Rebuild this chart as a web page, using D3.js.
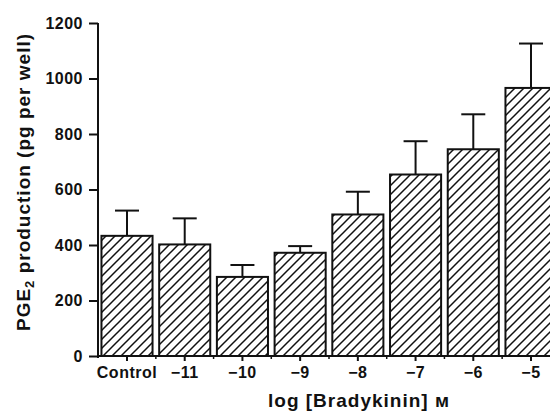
<!DOCTYPE html>
<html>
<head>
<meta charset="utf-8">
<script src="https://cdn.jsdelivr.net/npm/d3@7"></script>
<style>
  html, body { margin: 0; padding: 0; background: #fff; }
  svg { display: block; }
  text { font-family: "Liberation Sans", Arial, sans-serif; font-weight: bold; fill: #111; }
</style>
</head>
<body>
<svg id="chart"></svg>
<script>
// PGE2 production vs log [Bradykinin]
const categories = ['Control', '\u221211', '\u221210', '\u22129', '\u22128', '\u22127', '\u22126', '\u22125'];
const means = [433, 402, 285, 372, 510, 654, 745, 966];
const sems = [91, 94, 43, 24, 82, 120, 126, 160];
const yTicks = [0, 200, 400, 600, 800, 1000, 1200];

(function() {
    const width = 550, height = 414;
    const svg = d3.select('#chart').attr('width', width).attr('height', height);

    // Hatch pattern
    const defs = svg.append('defs');
    const pat = defs.append('pattern').attr('id', 'hatch')
        .attr('patternUnits', 'userSpaceOnUse')
        .attr('width', 9).attr('height', 9);
    pat.append('rect').attr('width', 9).attr('height', 9).attr('fill', '#fff');
    pat.append('path')
        .attr('d', 'M-2,11 L11,-2 M-2,2 L2,-2 M7,11 L11,7')
        .attr('stroke', '#111').attr('stroke-width', 1.5);

    const x = d3.scaleBand().domain(categories).range([98, 560])
        .paddingInner(0.115).paddingOuter(0.06);
    const y = d3.scaleLinear().domain([0, 1200]).range([356, 23]);

    const data = categories.map((c, i) => ({ cat: c, mean: means[i], sem: sems[i] }));

    // Error bars (drawn first so the bar outline sits on top)
    const err = svg.append('g');
    err.selectAll('.stem').data(data).enter().append('line')
        .attr('x1', d => x(d.cat) + x.bandwidth() / 2).attr('x2', d => x(d.cat) + x.bandwidth() / 2)
        .attr('y1', d => y(d.mean)).attr('y2', d => y(d.mean + d.sem))
        .attr('stroke', '#111').attr('stroke-width', 2);
    err.selectAll('.cap').data(data).enter().append('line')
        .attr('x1', d => x(d.cat) + x.bandwidth() / 2 - 12).attr('x2', d => x(d.cat) + x.bandwidth() / 2 + 12)
        .attr('y1', d => y(d.mean + d.sem)).attr('y2', d => y(d.mean + d.sem))
        .attr('stroke', '#111').attr('stroke-width', 2);

    // Bars
    svg.append('g').selectAll('rect').data(data).enter().append('rect')
        .attr('x', d => x(d.cat))
        .attr('y', d => y(d.mean))
        .attr('width', x.bandwidth())
        .attr('height', d => y(0) - y(d.mean))
        .attr('fill', 'url(#hatch)')
        .attr('stroke', '#111').attr('stroke-width', 2);

    // Y axis
    const yAxis = svg.append('g').attr('transform', 'translate(98,0)')
        .call(d3.axisLeft(y).tickValues(yTicks).tickFormat(d3.format('d')).tickSize(9).tickPadding(6));
    yAxis.select('.domain').attr('stroke', '#111').attr('stroke-width', 2)
        .attr('d', 'M0,' + y(1200) + 'V' + (y(0) + 2));
    yAxis.selectAll('.tick line').attr('stroke', '#111').attr('stroke-width', 2);
    yAxis.selectAll('.tick text').attr('font-size', 16).attr('font-family', null)
        .style('letter-spacing', '0.5px').attr('fill', '#111');

    // X axis
    const xAxis = svg.append('g').attr('transform', 'translate(0,' + y(0) + ')')
        .call(d3.axisBottom(x).tickSize(5).tickPadding(6).tickSizeOuter(0));
    xAxis.select('.domain').attr('stroke', '#111').attr('stroke-width', 2)
        .attr('d', 'M97,0H' + width);
    xAxis.selectAll('.tick line').attr('stroke', '#111').attr('stroke-width', 2);
    xAxis.selectAll('.tick text').attr('font-size', 16).attr('font-family', null)
        .style('letter-spacing', '0.5px').attr('fill', '#111');

    // small ticks between bars
    xAxis.selectAll('.minor').data(categories.slice(1)).enter().append('line')
        .attr('x1', d => x(d) - x.step() * x.paddingInner() / 2)
        .attr('x2', d => x(d) - x.step() * x.paddingInner() / 2)
        .attr('y1', -1).attr('y2', 3)
        .attr('stroke', '#111').attr('stroke-width', 1.5);

    // Axis titles
    svg.append('text')
        .attr('x', 268).attr('y', 407)
        .attr('font-size', 19).style('letter-spacing', '1px')
        .text('log [Bradykinin] \u043c');

    const yt = svg.append('text')
        .attr('transform', 'translate(30,182) rotate(-90)')
        .attr('text-anchor', 'middle')
        .attr('font-size', 19).style('letter-spacing', '1px');
    yt.append('tspan').text('PGE');
    yt.append('tspan').attr('font-size', 13).attr('dy', 4).text('2');
    yt.append('tspan').attr('dy', -4).text(' production (pg per well)');
})();
</script>
</body>
</html>
